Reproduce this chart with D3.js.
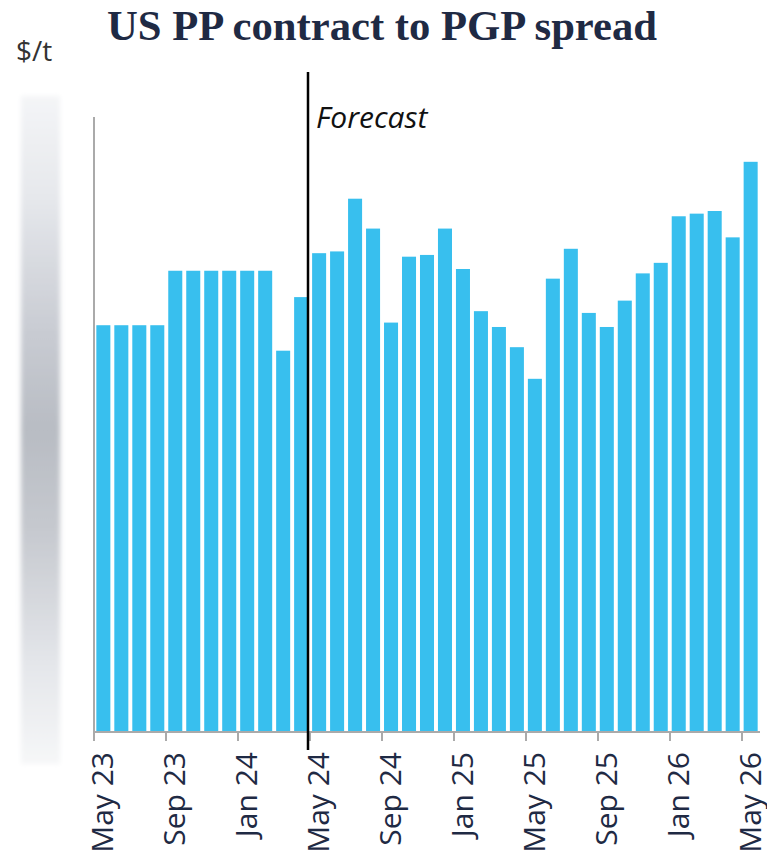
<!DOCTYPE html>
<html><head><meta charset="utf-8">
<script src="https://cdn.jsdelivr.net/npm/d3@7"></script>
<style>body{margin:0;background:#fff}svg{display:block}</style>
</head><body>
<svg id="c" width="767" height="863"></svg>
<script>
const categories = ["May 23","Jun 23","Jul 23","Aug 23","Sep 23","Oct 23","Nov 23","Dec 23","Jan 24","Feb 24","Mar 24","Apr 24",
 "May 24","Jun 24","Jul 24","Aug 24","Sep 24","Oct 24","Nov 24","Dec 24","Jan 25","Feb 25","Mar 25","Apr 25",
 "May 25","Jun 25","Jul 25","Aug 25","Sep 25","Oct 25","Nov 25","Dec 25","Jan 26","Feb 26","Mar 26","Apr 26","May 26"];
const spread = [463,463,463,463,525,525,525,525,525,525,434,495,
 545,547,607,573,466,541,543,573,527,479,461,438,
 402,516,550,477,461,491,522,534,587,590,593,563,649];
const tickLabels = ["May 23","Sep 23","Jan 24","May 24","Sep 24","Jan 25","May 25","Sep 25","Jan 26","May 26"];
const forecastStart = "May 24";
const yDomain = [0, 700];

(function(){
const svg = d3.select("#c");
const mL = 94, mR = 760, mT = 117, mB = 732;
const x = d3.scaleBand().domain(categories).range([mL, mR]).paddingInner(0.22).paddingOuter(0.13);
const xb = d3.scaleBand().domain(categories).range([mL, mR]);
const y = d3.scaleLinear().domain(yDomain).range([mB, mT]);

// blurred (redacted) y-axis label strip
const defs = svg.append("defs");
const g = defs.append("linearGradient").attr("id","gr").attr("x1",0).attr("y1",0).attr("x2",0).attr("y2",1);
[[0,"#f4f5f7"],[0.15,"#e6e8ec"],[0.35,"#c9ccd3"],[0.5,"#b8bcc3"],[0.65,"#c6c9cf"],[0.85,"#e4e6ea"],[1,"#f6f7f8"]]
 .forEach(([o,c])=>g.append("stop").attr("offset",o).attr("stop-color",c));
defs.append("filter").attr("id","bl").attr("x","-30%").attr("width","160%").append("feGaussianBlur").attr("stdDeviation",2.5);
svg.append("rect").attr("x",21).attr("y",96).attr("width",39).attr("height",668).attr("fill","url(#gr)").attr("filter","url(#bl)");

// title
svg.append("text").attr("x",382).attr("y",40).attr("text-anchor","middle")
  .attr("font-family","'Liberation Serif', 'DejaVu Serif', serif").attr("font-weight","bold")
  .attr("font-size",43).attr("fill","#1f2a44")
  .attr("textLength",550).attr("lengthAdjust","spacingAndGlyphs")
  .text("US PP contract to PGP spread");
svg.append("text").attr("x",16).attr("y",61).attr("font-family","'Open Sans', sans-serif")
  .attr("font-size",28).attr("fill","#333").text("$/t");

// bars
svg.append("g").selectAll("rect").data(categories).join("rect")
  .attr("x", d => x(d)).attr("width", x.bandwidth())
  .attr("y", (d,i) => y(spread[i])).attr("height", (d,i) => y(0) - y(spread[i]))
  .attr("fill", "#38bfee");

// axes
const axisColor = "#aaaaaa";
svg.append("line").attr("x1",mL).attr("x2",mL).attr("y1",mT).attr("y2",mB+1)
  .attr("stroke",axisColor).attr("stroke-width",2);
svg.append("line").attr("x1",mL-1).attr("x2",mR).attr("y1",mB).attr("y2",mB)
  .attr("stroke",axisColor).attr("stroke-width",2);
const tg = svg.append("g").selectAll("g").data(tickLabels).join("g");
tg.append("line").attr("x1",d=>xb(d)).attr("x2",d=>xb(d)).attr("y1",mB).attr("y2",mB+9)
  .attr("stroke",axisColor).attr("stroke-width",2);
tg.append("text")
  .attr("transform", d => `translate(${xb(d)+xb.bandwidth()/2-1},752) rotate(-90)`)
  .attr("text-anchor","end").attr("dy","0.36em")
  .attr("font-family","'Open Sans', sans-serif").attr("font-size",30).attr("fill","#1f2a44")
  .text(d=>d);

// forecast line
const fx = xb(forecastStart) - 2;
svg.append("line").attr("x1",fx).attr("x2",fx).attr("y1",72).attr("y2",750)
  .attr("stroke","#000").attr("stroke-width",2.5);
svg.append("text").attr("x",fx+8).attr("y",128).attr("font-family","'Open Sans', sans-serif")
  .attr("font-style","italic").attr("font-size",30).attr("fill","#111").text("Forecast");
})();
</script>
</body></html>
